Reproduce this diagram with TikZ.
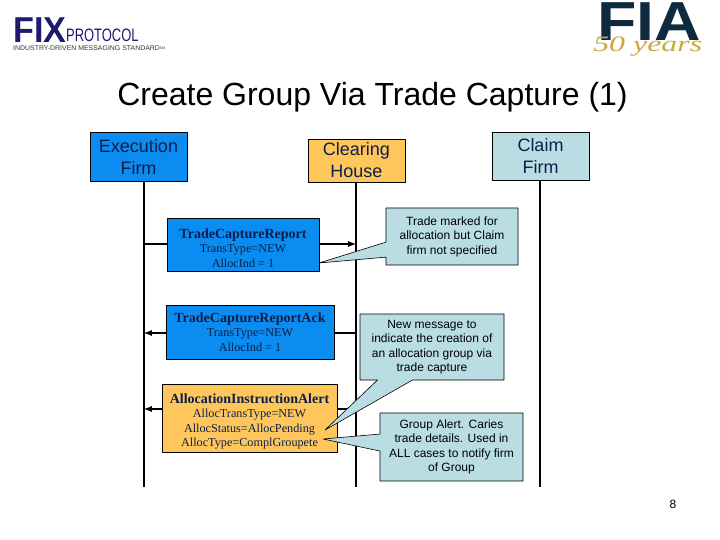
\documentclass[tikz,border=0pt]{standalone}
\usepackage{fontspec}
\setmainfont{Liberation Sans}
\newfontfamily\serifmsg{Liberation Serif}
\usetikzlibrary{shapes.callouts}
\definecolor{firmblue}{HTML}{0A8CF0}
\definecolor{houseorange}{HTML}{FFC65C}
\definecolor{noteteal}{HTML}{B9DDE3}
\definecolor{inknavy}{HTML}{0B1F4A}
\definecolor{fixnavy}{HTML}{1E1A6E}
\definecolor{fiadark}{HTML}{0F2A3C}
\definecolor{fiagold}{HTML}{C9A93A}
\newcommand{\msgtitle}[1]{{\bfseries\fontsize{14}{16}\selectfont #1}}
\tikzset{
	party/.style={draw=black, line width=0.9pt, minimum width=97pt, inner sep=0pt, align=center, text=inknavy, font=\fontsize{18}{22}\selectfont},
	msgbox/.style={draw=black, line width=0.9pt, inner sep=0pt, align=center, text=inknavy, font=\serifmsg\fontsize{12.2}{14.5}\selectfont},
	note/.style={rectangle callout, draw=black, line width=0.6pt, fill=noteteal, inner sep=0pt, align=center, font=\fontsize{12}{14.5}\selectfont, callout pointer width=15pt},
	lifeline/.style={line width=1.7pt},
	msgline/.style={line width=1.7pt, -latex}
}
\begin{document}
\begin{tikzpicture}[x=1pt,y=-1pt, line join=round]
	\useasboundingbox (0,0) rectangle (720,540);
	% logos
	\node[anchor=base west, inner sep=0pt, text=fixnavy, xscale=0.95, transform shape] (fix) at (13,43) {\fontsize{36}{36}\selectfont\bfseries FIX};
	\node[anchor=base west, inner sep=0pt, text=fixnavy, xscale=0.72, transform shape] (protocol) at (66,42) {\fontsize{18}{18}\selectfont PROTOCOL};
	\node[anchor=base west, inner sep=0pt, text=black!80, xscale=1.02, transform shape] (tagline) at (13,51) {\fontsize{6.8}{7}\selectfont INDUSTRY-DRIVEN MESSAGING STANDARD\raisebox{1pt}{\fontsize{3.5}{4}\selectfont SM}};
	\node[anchor=base west, inner sep=0pt, text=fiadark, xscale=1.17, transform shape] (fia) at (597,41) {\fontsize{55}{55}\selectfont\bfseries FIA};
	\node[anchor=base west, inner sep=0pt, text=fiagold, xscale=1.45, transform shape] (fifty) at (593,52) {\serifmsg\fontsize{22}{22}\selectfont\itshape 50 years};
	% title
	\node[anchor=base, inner sep=0pt] (title) at (372.5,106) {\fontsize{32}{36}\selectfont Create Group Via Trade Capture (1)};
	\node[inner sep=0pt] (pagenum) at (673,504) {\fontsize{12}{14}\selectfont 8};
	% parties
	\node[party, fill=firmblue, minimum height=49pt] (exec) at (138.5,156.5) {Execution\\Firm};
	\node[party, fill=houseorange, minimum height=43pt] (house) at (356.5,160.5) {Clearing\\House};
	\node[party, fill=noteteal, minimum height=48pt] (claim) at (540.5,156) {Claim\\Firm};
	\coordinate (execend) at (144,487);
	\coordinate (houseend) at (356,487);
	\coordinate (claimend) at (540,487);
	\draw[lifeline] (exec.south -| execend) -- (execend);
	\draw[lifeline] (house.south -| houseend) -- (houseend);
	\draw[lifeline] (claim.south -| claimend) -- (claimend);
	% messages
	\draw[msgline] (144,244) coordinate (repfrom) -- (356,244) coordinate (repto);
	\draw[msgline] (356,333) coordinate (ackfrom) -- (144,333) coordinate (ackto);
	\draw[msgline] (356,409) coordinate (alertfrom) -- (144,409) coordinate (alertto);
	\node[msgbox, fill=firmblue, minimum width=152pt, minimum height=53pt] (report) at (243,244.5) {\rule{0pt}{17pt}\msgtitle{TradeCaptureReport}\\TransType=NEW\\AllocInd = 1};
	\node[msgbox, fill=firmblue, minimum width=168pt, minimum height=54pt] (ack) at (250,332) {\msgtitle{TradeCaptureReportAck}\\TransType=NEW\\AllocInd = 1};
	\node[msgbox, fill=houseorange, minimum width=175pt, minimum height=68pt] (alert) at (249.5,418) {\rule{0pt}{17pt}\msgtitle{AllocationInstructionAlert}\\AllocTransType=NEW\\AllocStatus=AllocPending\\AllocType=ComplGroupete};
	% notes
	\coordinate (reporttip) at (319,263);
	\coordinate (acktip) at (325,430);
	\coordinate (alerttip) at (323,439);
	\node[note, minimum width=132pt, minimum height=57pt, callout absolute pointer={(reporttip)}] (marked) at (452,236.5) {Trade marked for\\allocation but Claim\\firm not specified};
	\node[note, minimum width=144pt, minimum height=66pt, callout pointer width=35pt, callout absolute pointer={(acktip)}] (newmsg) at (432,347) {New message to\\indicate the creation of\\an allocation group via\\trade capture};
	\node[note, minimum width=143pt, minimum height=68pt, callout pointer width=17pt, callout absolute pointer={(alerttip)}] (group) at (451.5,447) {Group Alert. Caries\\trade details. Used in\\ALL cases to notify firm\\of Group};
\end{tikzpicture}
\end{document}
